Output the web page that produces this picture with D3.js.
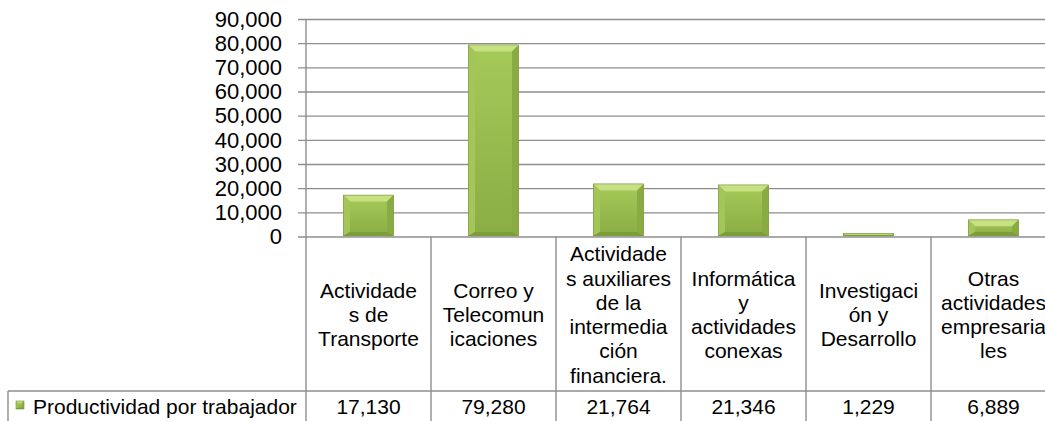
<!DOCTYPE html>
<html>
<head>
<meta charset="utf-8">
<script src="https://cdn.jsdelivr.net/npm/d3@7"></script>
<style>
  html, body { margin: 0; padding: 0; background: #ffffff; }
  svg { display: block; font-family: "Liberation Sans", Arial, sans-serif; }
</style>
</head>
<body>
<svg id="chart" width="1045" height="421"></svg>
<script>
// Productividad por trabajador por actividad
const categories = [
  "Actividades de Transporte",
  "Correo y Telecomunicaciones",
  "Actividades auxiliares de la intermediación financiera.",
  "Informática y actividades conexas",
  "Investigación y Desarrollo",
  "Otras actividades empresariales"
];
const values = [17130, 79280, 21764, 21346, 1229, 6889];
const seriesName = "Productividad por trabajador";
const yTicks = [0, 10000, 20000, 30000, 40000, 50000, 60000, 70000, 80000, 90000];

const svg = d3.select("#chart");
const W = 1045, H = 421;

const plotLeft = 306, plotRight = 1056;
const yTop = 19, yZero = 236.5;
const tableBottomLine = 391;
const gridColor = "#8e8e8e";

const x = d3.scaleBand().domain(categories).range([plotLeft, plotRight]).paddingInner(0).paddingOuter(0);
const y = d3.scaleLinear().domain([0, 90000]).range([yZero, yTop]);
const fmt = d3.format(",");

// gradient for the bar faces
const defs = svg.append("defs");
const face = defs.append("linearGradient").attr("id", "face").attr("x1", 0).attr("y1", 0).attr("x2", 0).attr("y2", 1);
face.append("stop").attr("offset", "0%").attr("stop-color", "#a6ca58");
face.append("stop").attr("offset", "100%").attr("stop-color", "#8aad45");

// horizontal gridlines and tick marks
const yAxis = d3.axisLeft(y).tickValues(yTicks).tickSize(-(plotRight - plotLeft)).tickFormat("");
const gAxis = svg.append("g").attr("transform", `translate(${plotLeft},0)`).call(yAxis);
gAxis.select(".domain").remove();
gAxis.selectAll(".tick line").attr("x1", -8).attr("stroke", gridColor).attr("stroke-width", 1.4);

// tick labels
svg.append("g").selectAll("text").data(yTicks).join("text")
  .attr("x", 282).attr("y", d => y(d) + 7.8)
  .attr("text-anchor", "end").attr("font-size", 22).attr("fill", "#000")
  .text(d => fmt(d));

// vertical axis line down through the table
svg.append("line").attr("x1", plotLeft).attr("x2", plotLeft).attr("y1", yTop).attr("y2", H)
  .attr("stroke", gridColor).attr("stroke-width", 1.4);

// data table grid
svg.append("g").selectAll("line").data(categories).join("line")
  .attr("x1", d => x(d) + x.bandwidth()).attr("x2", d => x(d) + x.bandwidth())
  .attr("y1", yZero).attr("y2", H)
  .attr("stroke", gridColor).attr("stroke-width", 1.4);
svg.append("line").attr("x1", 8).attr("x2", plotRight).attr("y1", tableBottomLine).attr("y2", tableBottomLine)
  .attr("stroke", gridColor).attr("stroke-width", 1.4);
svg.append("line").attr("x1", 8).attr("x2", 8).attr("y1", tableBottomLine).attr("y2", H)
  .attr("stroke", gridColor).attr("stroke-width", 1.4);

// bevelled bars
const barW = 50;
function bevelBar(g, x0, y0, x1, y1, bMax) {
  const h = y1 - y0;
  const b = Math.max(0, Math.min(bMax, h / 2, (x1 - x0) / 2));
  const bb = b * 0.6;
  g.append("rect").attr("x", x0).attr("y", y0).attr("width", x1 - x0).attr("height", h).attr("fill", "url(#face)");
  const poly = (pts, fill) => g.append("polygon").attr("points", pts.map(p => p.join(",")).join(" ")).attr("fill", fill);
  poly([[x0, y0], [x1, y0], [x1 - b, y0 + b], [x0 + b, y0 + b]], "#c6e082");
  poly([[x0, y0], [x0 + b, y0 + b], [x0 + b, y1 - bb], [x0, y1]], "#a4c658");
  poly([[x1, y0], [x1, y1], [x1 - b, y1 - bb], [x1 - b, y0 + b]], "#8aab42");
  poly([[x0, y1], [x0 + b, y1 - bb], [x1 - b, y1 - bb], [x1, y1]], "#7d9d3b");
  g.append("rect").attr("x", x0).attr("y", y0).attr("width", x1 - x0).attr("height", h)
    .attr("fill", "none").attr("stroke", "#738f35").attr("stroke-width", 0.6);
}
const gBars = svg.append("g");
categories.forEach((c, i) => {
  const cx = x(c) + x.bandwidth() / 2;
  bevelBar(gBars.append("g"), cx - barW / 2, y(values[i]), cx + barW / 2, y(0) - 0.7, 6.5);
});

// wrap category names to the cell width, splitting long words as needed
const measurer = svg.append("text").attr("font-size", 21).attr("visibility", "hidden");
function textWidth(s) { measurer.text(s); return measurer.node().getComputedTextLength(); }
function wrap(label, maxW) {
  const words = label.split(" ");
  const lines = [];
  let cur = "";
  words.forEach(w => {
    const trial = cur ? cur + " " + w : w;
    if (textWidth(trial) <= maxW) { cur = trial; return; }
    if (cur) lines.push(cur);
    cur = "";
    let rest = w;
    while (textWidth(rest) > maxW) {
      let k = rest.length;
      while (k > 1 && textWidth(rest.slice(0, k)) > maxW) k--;
      lines.push(rest.slice(0, k));
      rest = rest.slice(k);
    }
    cur = rest;
  });
  if (cur) lines.push(cur);
  return lines;
}

const catMid = 314.5, lineH = 24.3;
const gCats = svg.append("g");
categories.forEach(c => {
  const lines = wrap(c, 106.2);
  const cx = x(c) + x.bandwidth() / 2;
  const t = gCats.append("text").attr("text-anchor", "middle").attr("font-size", 21).attr("fill", "#000");
  lines.forEach((ln, j) => {
    t.append("tspan").attr("x", cx).attr("y", catMid + (j - (lines.length - 1) / 2) * lineH + 7.5).text(ln);
  });
});
measurer.remove();

// value row
svg.append("g").selectAll("text").data(categories).join("text")
  .attr("x", d => x(d) + x.bandwidth() / 2).attr("y", 414)
  .attr("text-anchor", "middle").attr("font-size", 21).attr("fill", "#000")
  .text((d, i) => fmt(values[i]));

// legend key and series name
const gKey = svg.append("g");
bevelBar(gKey, 16, 401, 24, 409, 2);
svg.append("text").attr("x", 33).attr("y", 414).attr("font-size", 21).attr("fill", "#000").text(seriesName);
</script>
</body>
</html>
